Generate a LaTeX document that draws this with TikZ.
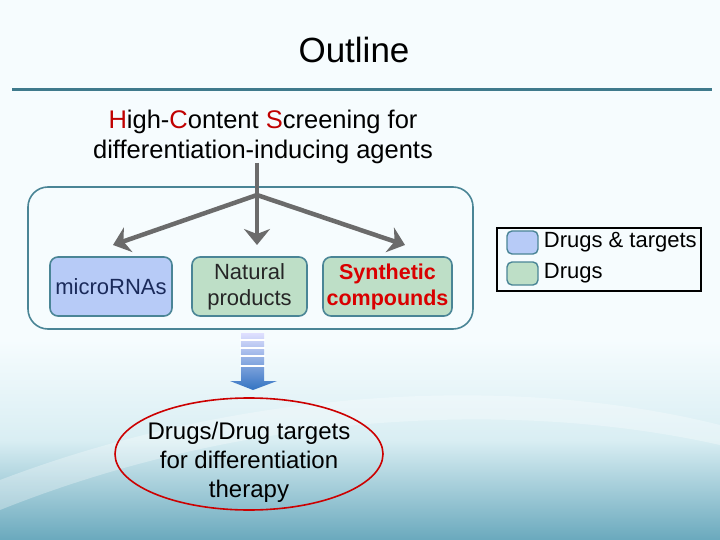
\documentclass[tikz,border=0pt]{standalone}
\usepackage{fontspec}
\setmainfont{Liberation Sans}
\usepackage{xcolor}
\usetikzlibrary{positioning,fit,arrows.meta,shapes.geometric}

\definecolor{bgtop}{HTML}{F6FCFE}
\definecolor{bgmid}{HTML}{D9EEF3}
\definecolor{bgteal}{HTML}{6AA9BD}
\definecolor{rule}{HTML}{3F7A8C}
\definecolor{frame}{HTML}{4A8596}
\definecolor{blueish}{HTML}{B7CBF7}
\definecolor{greenish}{HTML}{BEDFC7}
\definecolor{arrowgrey}{HTML}{6B6B6B}
\definecolor{hlred}{HTML}{C00000}
\definecolor{navytext}{HTML}{1A2A5A}

\begin{document}
\begin{tikzpicture}[x=1pt, y=-1pt,
  cat/.style={draw=frame, line width=1.6pt, rounded corners=8pt, align=center,
              minimum height=59pt, inner sep=1pt, font=\fontsize{22}{26}\selectfont},
  swatch/.style={draw=frame, line width=1.4pt, rounded corners=5pt,
                 minimum width=31pt, minimum height=23pt, inner sep=0pt},
  fork/.style={draw=arrowgrey, line width=4.5pt,
               -{Stealth[length=16pt, width=26pt, inset=5pt]}},
  lbl/.style={anchor=west, inner sep=0pt, font=\fontsize{22}{26}\selectfont}
]
% background
\fill[bgtop] (0,0) rectangle (720,540);
\shade[top color=bgtop, bottom color=bgteal, middle color=bgmid] (0,340) rectangle (720,540);
\fill[white, opacity=0.3] (0,480) .. controls (250,385) and (520,375) .. (720,425)
  -- (720,445) .. controls (520,400) and (250,410) .. (0,510) -- cycle;
\useasboundingbox (0,0) rectangle (720,540);

% title and rule
\node (title) at (354,50) {\fontsize{35}{40}\selectfont Outline};
\draw[rule, line width=3pt] (12,90) -- (712,90);

\node[align=center, font=\fontsize{25.5}{30}\selectfont] (hcs) at (263,137)
  {\textcolor{hlred}{H}igh-\textcolor{hlred}{C}ontent \textcolor{hlred}{S}creening for\\
   differentiation-inducing agents};

% screening frame
\draw[frame, line width=1.6pt, fill=bgtop, rounded corners=20pt]
  (28,187) rectangle (473,329);

\node[cat, fill=blueish, minimum width=122pt, text=navytext] (mirna) at (111,286.5) {microRNAs};
\node[cat, fill=greenish, minimum width=115pt, text=black!85] (natural) at (249.5,286.5) {Natural\\products};
\node[cat, fill=greenish, minimum width=129pt, text=red!85!black,
      font=\fontsize{21.5}{26}\selectfont\bfseries] (synth) at (387.5,286.5) {Synthetic\\compounds};

% forks
\coordinate (split) at (257,195);
\coordinate (tipL) at (113,245);
\coordinate (tipM) at (257,245);
\coordinate (tipR) at (405,245);
\draw[draw=arrowgrey, line width=4.5pt] (257,163) -- (split);
\draw[fork] (split) -- (tipL);
\draw[fork] (split) -- (tipM);
\draw[fork] (split) -- (tipR);

% block arrow down
\shade[top color=blue!12, bottom color=blue!55!cyan!70!black!80]
  (241,333) -- (264,333) -- (264,381) -- (277,381) -- (253,390) -- (230,381)
  -- (241,381) -- cycle;
\foreach \yy in {340,348,356,366} {
  \draw[white, line width=1.2pt] (240,\yy) -- (265,\yy);
}

% outcome
\node[ellipse, draw=red!80!black, line width=1.6pt, minimum width=268pt,
      minimum height=112pt, inner sep=0pt] (outcome) at (249,454) {};
\node[align=center, font=\fontsize{24}{29}\selectfont] (outtext) at (249,462)
  {Drugs/Drug targets\\for differentiation\\therapy};

% legend
\draw[black, line width=1.5pt, fill=bgtop] (497,228) rectangle (701,291);
\node[swatch, fill=blueish] (swblue) at (522.5,242.5) {};
\node[swatch, fill=greenish] (swgreen) at (522.5,273.5) {};
\node[lbl, right=5pt of swblue] (lblue) {Drugs \& targets};
\node[lbl, right=5pt of swgreen] (lgreen) {Drugs};
\end{tikzpicture}
\end{document}
